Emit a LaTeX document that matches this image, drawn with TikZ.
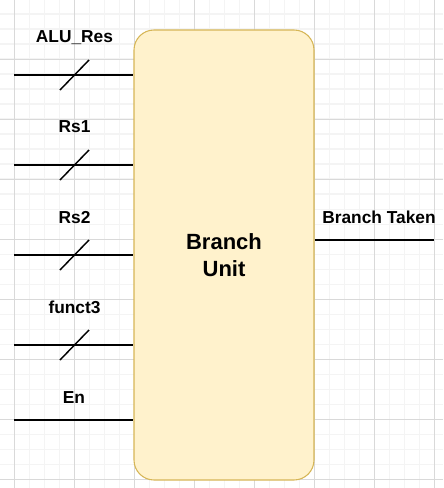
\documentclass[tikz,border=0pt]{standalone}
\usepackage{fontspec}
\setmainfont{Liberation Sans}
\usetikzlibrary{positioning}
\definecolor{unitfill}{HTML}{FFF2CC}
\definecolor{unitedge}{HTML}{D6B656}
\definecolor{gridminor}{HTML}{F4F4F4}
\definecolor{gridmajor}{HTML}{D9D9D9}

\begin{document}
\begin{tikzpicture}[
  x=0.75pt, y=-0.75pt,
  unit/.style={draw=unitedge, fill=unitfill, line width=0.8pt, rounded corners=15pt, minimum width=135pt, minimum height=337.5pt, align=center, font=\fontsize{16.5}{20.5}\selectfont\bfseries},
  wire/.style={line width=1.1pt, black},
  sig/.style={font=\fontsize{13}{15}\selectfont\bfseries, inner sep=0pt, anchor=base},
  minorline/.style={draw=gridminor, line width=1.2pt},
  majorline/.style={draw=gridmajor, line width=0.5pt}
]
\useasboundingbox (0,0) rectangle (443,488);
% background grid
\foreach \g in {-0.7,14.3,...,490} {
  \draw[minorline] (\g,0) -- (\g,488);
  \draw[minorline] (0,\g) -- (443,\g);
}
\foreach \g in {14.3,74.3,...,443} \draw[majorline] (\g,0) -- (\g,488);
\foreach \g in {59.3,119.3,...,488} \draw[majorline] (0,\g) -- (443,\g);

\node[unit] (bu) at (224,255) {Branch\\Unit};

% bus inputs
\foreach \y/\lbl [count=\i] in {75/ALU\_Res, 165/Rs1, 255/Rs2, 345/funct3} {
  \coordinate (in\i) at (14,\y);
  \coordinate (mid\i) at (74.5,\y);
  \draw[wire] (in\i) -- (in\i -| bu.west);
  \draw[wire] ([shift={(-14.5,15)}]mid\i) -- ([shift={(14.5,-15)}]mid\i);
  \node[sig] (lbl\i) at ([yshift=24pt]mid\i) {\lbl};
}

% enable input
\coordinate (en) at (14,420);
\draw[wire] (en) -- (en -| bu.west);
\node[sig] (enlbl) at (74,403.3) {En};

% output
\coordinate (out) at (434,240);
\draw[wire] (out -| bu.east) -- (out);
\node[sig, anchor=base west] (outlbl) at (322,223.3) {Branch Taken};
\end{tikzpicture}
\end{document}
